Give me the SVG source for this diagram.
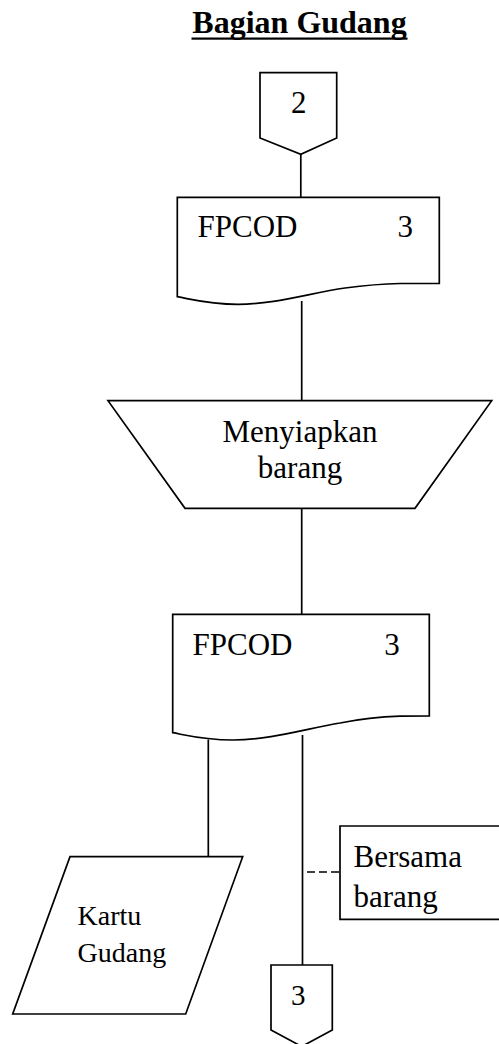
<svg xmlns="http://www.w3.org/2000/svg" width="499" height="1044" viewBox="0 0 499 1044">
  <style>
    .shape { fill: #ffffff; stroke: #000000; stroke-width: 1.7; stroke-linejoin: miter; }
    .line { fill: none; stroke: #000000; stroke-width: 1.7; }
    .dash { fill: none; stroke: #000000; stroke-width: 1.7; stroke-dasharray: 8 4; }
    text { fill: #000000; }
  </style>

  <rect x="0" y="0" width="499" height="1044" fill="#ffffff"/>

  <!-- heading -->
  <g id="title">
    <text x="299.5" y="33.3" font-family="Liberation Serif, Times New Roman, DejaVu Serif, serif" font-weight="bold" font-size="32" text-anchor="middle">Bagian Gudang</text>
    <rect x="191.5" y="37.5" width="216" height="2.2" fill="#000000"/>
  </g>

  <!-- connectors -->
  <g id="connectors">
    <line class="line" x1="300.8" y1="154" x2="300.8" y2="197.3"/>
    <line class="line" x1="301.7" y1="301" x2="301.7" y2="400.7"/>
    <line class="line" x1="301.7" y1="508.3" x2="301.7" y2="614.3"/>
    <line class="line" x1="208.3" y1="739.5" x2="208.3" y2="856.7"/>
    <line class="line" x1="302.5" y1="735" x2="302.5" y2="965"/>
    <line class="dash" x1="307" y1="872" x2="340" y2="872"/>
  </g>

  <!-- off-page connector 2 -->
  <g id="offpage-2" font-family="Liberation Serif, Times New Roman, DejaVu Serif, serif">
    <path class="shape" d="M260,72.7 H336.7 V138 L300.8,154.3 L260,138 Z"/>
    <text x="298.8" y="112.7" font-size="31" text-anchor="middle">2</text>
  </g>

  <!-- document FPCOD (top) -->
  <g id="doc-fpcod-1" font-family="Liberation Serif, Times New Roman, DejaVu Serif, serif">
    <path class="shape" d="M177.3,197.3 H439.3 V283.3 L400,283.5 C375,284 360,286 345,288 C310,293 275,304.3 238,304.3 C210,304.3 195,300 177.3,296.7 Z"/>
    <text x="197.5" y="236.7" font-size="31">FPCOD</text>
    <text x="397.5" y="236.7" font-size="31">3</text>
  </g>

  <!-- manual operation -->
  <g id="menyiapkan-barang" font-family="Liberation Serif, Times New Roman, DejaVu Serif, serif">
    <path class="shape" d="M108,400.7 H491.7 L415,508.3 H185 Z"/>
    <text x="300" y="441.5" font-size="31" text-anchor="middle">Menyiapkan</text>
    <text x="300" y="478" font-size="31" text-anchor="middle">barang</text>
  </g>

  <!-- document FPCOD (bottom) -->
  <g id="doc-fpcod-2" font-family="Liberation Serif, Times New Roman, DejaVu Serif, serif">
    <path class="shape" d="M172.7,614.3 H429.3 V716 L400,716.2 C375,717 355,720 340,723 C305,729 270,740 233,740 C205,740 190,736 172.7,732.7 Z"/>
    <text x="192.5" y="655" font-size="31">FPCOD</text>
    <text x="384.3" y="655" font-size="31">3</text>
  </g>

  <!-- Kartu Gudang (parallelogram) -->
  <g id="kartu-gudang" font-family="Liberation Serif, Times New Roman, DejaVu Serif, serif">
    <path class="shape" d="M70,856.7 H242.7 L185.7,1014 H12.7 Z"/>
    <text x="77.5" y="925" font-size="28">Kartu</text>
    <text x="77.5" y="961.5" font-size="28">Gudang</text>
  </g>

  <!-- annotation -->
  <g id="note-bersama-barang" font-family="Liberation Serif, Times New Roman, DejaVu Serif, serif">
    <path class="line" d="M499,826 H340 V919.3 H499"/>
    <text x="353.5" y="867" font-size="31">Bersama</text>
    <text x="353.5" y="907" font-size="31">barang</text>
  </g>

  <!-- off-page connector 3 -->
  <g id="offpage-3" font-family="Liberation Serif, Times New Roman, DejaVu Serif, serif">
    <path class="shape" d="M271,965 H332.3 V1030 L301.7,1046.5 L271,1030 Z"/>
    <text x="298.3" y="1005" font-size="29" text-anchor="middle">3</text>
  </g>
</svg>
